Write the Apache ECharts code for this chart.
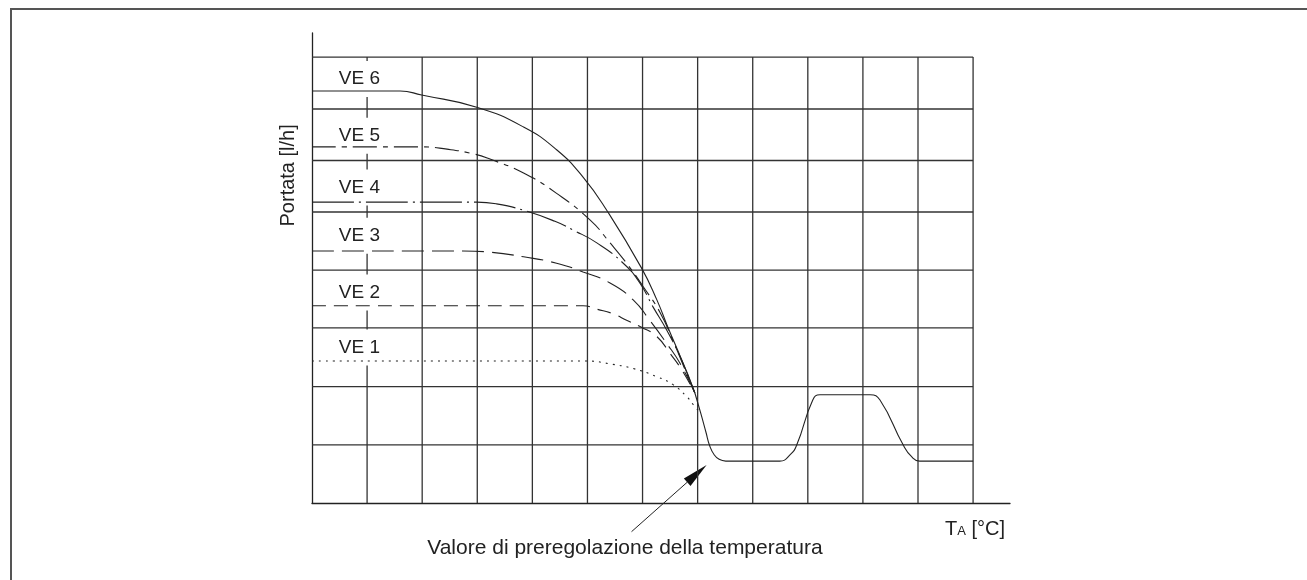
<!DOCTYPE html>
<html>
<head>
<meta charset="utf-8">
<title>Portata</title>
<script src="https://cdn.jsdelivr.net/npm/echarts@6/dist/echarts.min.js"></script>
<style>
    html, body {margin:0;padding:0;background:#fff;}
    #frame {position:absolute;left:10px;top:8px;right:0;bottom:0;border-top:2px solid #555;border-left:2px solid #555;}
    #chart {position:absolute;left:0;top:0;width:1307px;height:580px;}
</style>
</head>
<body>
<div id="frame"></div>
<div id="chart"></div>
<script>
// axis extents, in grid units (one column = 1; rows are not equal in the drawing)
var xMax = 12.67;
var yMax = 8.076;
var vLines = [1, 2, 3, 4, 5, 6, 7, 8, 9, 10, 11, 12];
var hLines = [1, 2, 3.01, 4, 5, 5.885, 6.77, 7.663];

// curves
var ve6X = [0, 1.6, 1.99, 2.99, 3.84, 4.44, 4.92, 5.35, 5.98, 6.26, 6.46, 6.71, 6.95];
var ve6Y = [7.08, 7.08, 7.01, 6.80, 6.46, 6.07, 5.60, 5.03, 4.04, 3.49, 3.02, 2.46, 1.89];
var ve5X = [0, 1.99, 2.45, 2.93, 3.23, 3.84, 4.44, 5.05, 5.41, 5.71, 6.01, 6.32, 6.57, 6.79, 6.95];
var ve5Y = [6.12, 6.12, 6.08, 6.00, 5.91, 5.67, 5.32, 4.86, 4.47, 4.12, 3.72, 3.27, 2.75, 2.25, 1.89];
var ve4X = [0, 2.99, 3.35, 3.84, 4.41, 4.74, 5.17, 5.65, 5.95, 6.19, 6.44, 6.71, 6.95];
var ve4Y = [5.17, 5.17, 5.14, 5.03, 4.84, 4.69, 4.47, 4.12, 3.78, 3.37, 2.97, 2.46, 1.89];
var ve3X = [0, 2.74, 3.23, 3.84, 4.44, 4.92, 5.41, 5.83, 6.13, 6.44, 6.68, 6.95];
var ve3Y = [4.33, 4.33, 4.31, 4.23, 4.12, 3.97, 3.78, 3.49, 3.14, 2.74, 2.40, 1.89];
var ve2X = [0, 4.92, 5.17, 5.47, 5.71, 5.98, 6.26, 6.50, 6.71, 6.95];
var ve2Y = [3.39, 3.39, 3.33, 3.25, 3.14, 3.02, 2.86, 2.57, 2.29, 1.89];
var ve1X = [0, 4.99, 5.41, 5.83, 6.26, 6.56, 6.80, 6.93, 7.04];
var ve1Y = [2.44, 2.44, 2.39, 2.31, 2.17, 2.03, 1.83, 1.68, 1.56];
var commonX = [6.95, 7.06, 7.15, 7.22, 7.30, 7.39, 7.51, 8.49, 8.68, 8.80, 9.09, 9.22, 10.13, 10.31, 10.73, 10.88, 11.03, 12];
var commonY = [1.89, 1.53, 1.22, 0.98, 0.83, 0.75, 0.72, 0.72, 0.83, 1.00, 1.77, 1.86, 1.86, 1.77, 1.00, 0.80, 0.72, 0.72];

// labels
var labelText = ['VE 6', 'VE 5', 'VE 4', 'VE 3', 'VE 2', 'VE 1'];
var labelX = [0.86, 0.86, 0.86, 0.86, 0.86, 0.86];
var labelY = [7.285, 6.311, 5.421, 4.591, 3.617, 2.672];
var yName = 'Portata [l/h]';
var yNamePos = [-0.42, 5.63];
var noteText = 'Valore di preregolazione della temperatura';
var notePos = [5.68, -0.773];
var arrowFrom = [5.80, -0.493];
var arrowTo = [7.163, 0.653];

var FONT = '"Liberation Sans", Arial, sans-serif';
var INK = '#222';

function zip(xs, ys) {
    return xs.map(function (x, i) { return [x, ys[i]]; });
}

var gridData = [];
hLines.forEach(function (y) { gridData.push([0, y, 12, y]); });
vLines.forEach(function (x) { gridData.push([x, 0, x, hLines[hLines.length - 1]]); });

function curve(name, xs, ys, dash) {
    return {
        name: name,
        type: 'line',
        z: 6,
        data: zip(xs, ys),
        showSymbol: false,
        smooth: 0.5,
        silent: true,
        lineStyle: {color: INK, width: 1.1, type: dash}
    };
}

var chart = echarts.init(document.getElementById('chart'));
chart.setOption({
    animation: false,
    backgroundColor: 'transparent',
    grid: {left: 312, top: 33, right: 297, bottom: 77},
    xAxis: {
        type: 'value', min: 0, max: xMax,
        axisLine: {show: true, lineStyle: {color: INK, width: 1.3}},
        axisTick: {show: false}, axisLabel: {show: false}, splitLine: {show: false},
        name: '{t|T}{s|A}{t| [°C]}',
        nameLocation: 'end',
        nameGap: -5,
        nameTextStyle: {
            align: 'right', verticalAlign: 'top', padding: [14, 0, 0, 0],
            rich: {
                t: {fontSize: 20, fontFamily: FONT, color: INK, verticalAlign: 'bottom', lineHeight: 22},
                s: {fontSize: 13, fontFamily: FONT, color: INK, verticalAlign: 'bottom', lineHeight: 22, padding: [0, 0, 1, 0]}
            }
        }
    },
    yAxis: {
        type: 'value', min: 0, max: yMax,
        axisLine: {show: true, lineStyle: {color: INK, width: 1.3}},
        axisTick: {show: false}, axisLabel: {show: false}, splitLine: {show: false}
    },
    series: [
        {
            type: 'custom',
            z: 1,
            silent: true,
            data: gridData,
            encode: {x: [0, 2], y: [1, 3]},
            renderItem: function (params, api) {
                var p1 = api.coord([api.value(0), api.value(1)]);
                var p2 = api.coord([api.value(2), api.value(3)]);
                return {
                    type: 'line',
                    shape: {x1: p1[0], y1: p1[1], x2: p2[0], y2: p2[1]},
                    style: {stroke: '#333', lineWidth: 1.3}
                };
            }
        },
        {
            // VE labels, white boxed so they cut the first grid column line
            type: 'custom',
            z: 4,
            silent: true,
            data: labelText.map(function (t, i) { return [labelX[i], labelY[i], i]; }),
            renderItem: function (params, api) {
                var p = api.coord([api.value(0), api.value(1)]);
                return {
                    type: 'text',
                    x: p[0], y: p[1],
                    style: {
                        text: labelText[api.value(2)],
                        fontSize: 19, fontFamily: FONT, fill: INK,
                        align: 'center', verticalAlign: 'middle',
                        lineHeight: 20,
                        backgroundColor: '#fff',
                        padding: [8, 4, 8, 4]
                    }
                };
            }
        },
        curve('VE 6', ve6X, ve6Y, 'solid'),
        curve('VE 5', ve5X, ve5Y, [24, 6, 5, 6]),
        curve('VE 4', ve4X, ve4Y, [42, 5, 2, 5]),
        curve('VE 3', ve3X, ve3Y, [22, 8]),
        curve('VE 2', ve2X, ve2Y, [14, 8]),
        curve('VE 1', ve1X, ve1Y, [2, 5]),
        curve('comune', commonX, commonY, 'solid')
    ]
});

// annotation texts and arrow, placed through the axes
var pName = chart.convertToPixel({gridIndex: 0}, yNamePos);
var pNote = chart.convertToPixel({gridIndex: 0}, notePos);
var pA = chart.convertToPixel({gridIndex: 0}, arrowFrom);
var pB = chart.convertToPixel({gridIndex: 0}, arrowTo);
var dx = pB[0] - pA[0], dy = pB[1] - pA[1];
var len = Math.sqrt(dx * dx + dy * dy);
var ux = dx / len, uy = dy / len;
var headLen = 26, headW = 5;
var base = [pB[0] - ux * headLen, pB[1] - uy * headLen];

chart.setOption({
    graphic: [
        {
            type: 'text', x: pName[0], y: pName[1], rotation: Math.PI / 2,
            style: {text: yName, fontSize: 20, fontFamily: FONT, fill: INK, align: 'center', verticalAlign: 'middle'}
        },
        {
            type: 'text', x: pNote[0], y: pNote[1],
            style: {text: noteText, fontSize: 21, fontFamily: FONT, fill: INK, align: 'center', verticalAlign: 'middle'}
        },
        {
            type: 'line',
            shape: {x1: pA[0], y1: pA[1], x2: base[0], y2: base[1]},
            style: {stroke: INK, lineWidth: 1}
        },
        {
            type: 'polygon',
            shape: {points: [
                [pB[0], pB[1]],
                [base[0] - uy * headW, base[1] + ux * headW],
                [base[0] + uy * headW, base[1] - ux * headW]
            ]},
            style: {fill: '#111'}
        }
    ]
});
</script>
</body>
</html>
